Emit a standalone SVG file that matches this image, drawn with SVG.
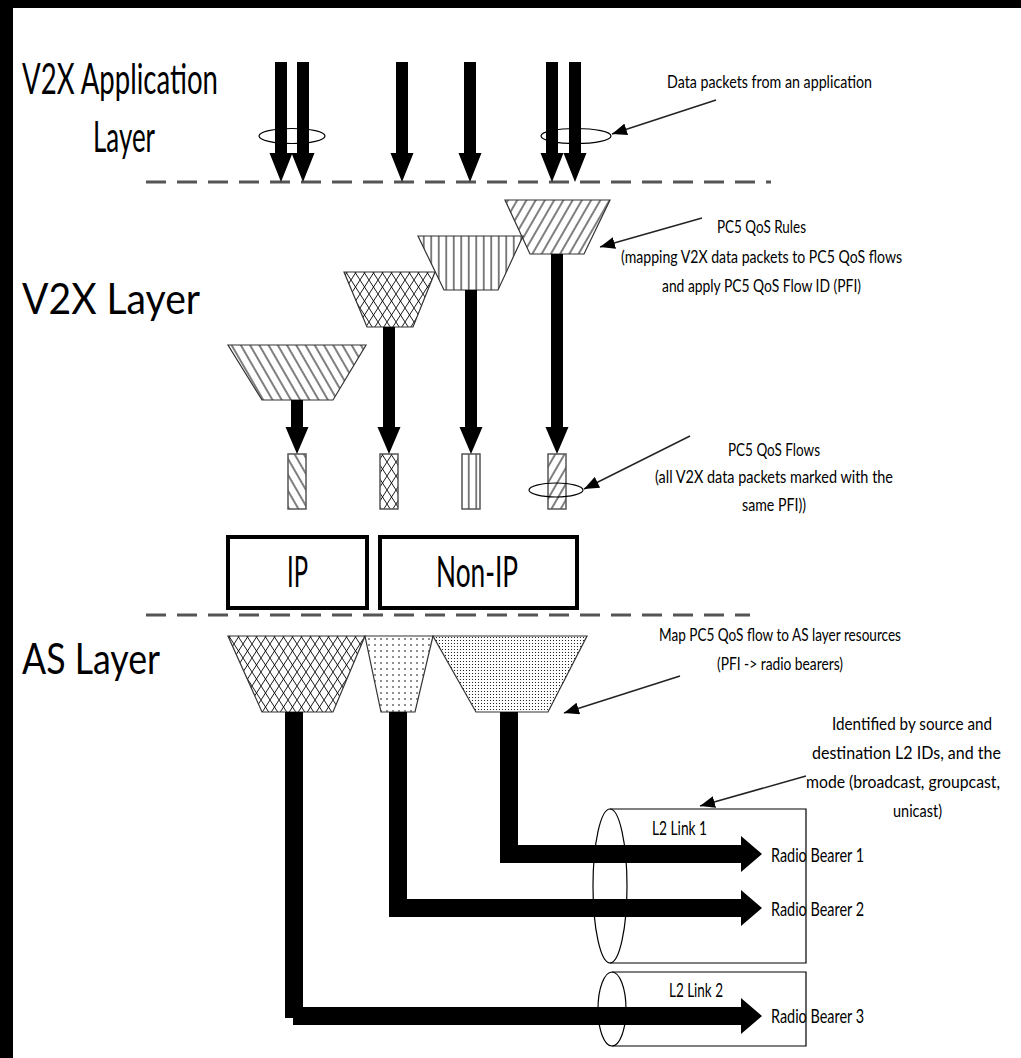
<svg xmlns="http://www.w3.org/2000/svg" width="1021" height="1058" viewBox="0 0 1021 1058">
<defs>
<style>
.big{font-family:Lato,"Liberation Sans",sans-serif;font-size:43px;fill:#000}
.ann{font-family:Lato,"Liberation Sans",sans-serif;font-size:17px;fill:#000}
.lbl{font-family:Lato,"Liberation Sans",sans-serif;font-size:20px;fill:#000}
.note{font-family:Lato,"Liberation Sans",sans-serif;font-size:17px;fill:#000}
.trap{stroke:#333;stroke-width:1.2}
.dash{stroke:#555;stroke-width:3;stroke-dasharray:20 11;fill:none}
.ring{stroke:#000;stroke-width:1.2;fill:none}
.ptr{stroke:#222;stroke-width:1.5;fill:none;marker-end:url(#ah)}
.box{fill:#fff;stroke:#000;stroke-width:4}
.flow{stroke:#555;stroke-width:1.5}
.cyl{fill:none;stroke:#000;stroke-width:1.2}
.blk{fill:#000}
</style>
<marker id="ah" markerUnits="userSpaceOnUse" markerWidth="16" markerHeight="12" refX="15" refY="6" orient="auto"><path d="M0,0 L15,6 L0,12 Z" fill="#000"/></marker>
<pattern id="pFwd" patternUnits="userSpaceOnUse" width="8" height="8" patternTransform="rotate(30)"><rect width="8" height="8" fill="#fff"/><line x1="4" y1="-1" x2="4" y2="9" stroke="#000" stroke-width="1"/></pattern>
<pattern id="pBack" patternUnits="userSpaceOnUse" width="8" height="8" patternTransform="rotate(-30)"><rect width="8" height="8" fill="#fff"/><line x1="4" y1="-1" x2="4" y2="9" stroke="#000" stroke-width="1"/></pattern>
<pattern id="pVert" patternUnits="userSpaceOnUse" width="7.5" height="8"><rect width="7.5" height="8" fill="#fff"/><line x1="3.75" y1="-1" x2="3.75" y2="9" stroke="#000" stroke-width="1"/></pattern>
<pattern id="pCross" patternUnits="userSpaceOnUse" width="9" height="14"><rect width="9" height="14" fill="#fff"/><path d="M0,0 L9,14 M9,0 L0,14" stroke="#000" stroke-width="0.9"/></pattern>
<pattern id="pDotS" patternUnits="userSpaceOnUse" width="6" height="6"><rect width="6" height="6" fill="#fff"/><circle cx="3" cy="3" r="0.8" fill="#000"/></pattern>
<pattern id="pDotD" patternUnits="userSpaceOnUse" width="3" height="3"><rect width="3" height="3" fill="#fff"/><circle cx="1.5" cy="1.5" r="0.6" fill="#000"/></pattern>
<path id="topArrow" d="M-6,0 H6 V91 H11.5 L0,120 L-11.5,91 H-6 Z"/>
</defs>

<rect width="1021" height="1058" fill="#fff"/>
<rect x="0" y="0" width="1021" height="8" fill="#000"/>
<rect x="0" y="0" width="13" height="1058" fill="#000"/>

<g id="layer-labels">
<text class="big" x="22" y="94" textLength="196" lengthAdjust="spacingAndGlyphs">V2X Application</text>
<text class="big" x="93" y="152" textLength="62" lengthAdjust="spacingAndGlyphs">Layer</text>
<text class="big" x="22" y="314" textLength="178" lengthAdjust="spacingAndGlyphs">V2X Layer</text>
<text class="big" x="22" y="674" textLength="138" lengthAdjust="spacingAndGlyphs">AS Layer</text>
</g>

<g id="boundaries">
<line class="dash" x1="146" y1="182" x2="771" y2="182"/>
<line class="dash" x1="146" y1="615" x2="750" y2="615"/>
</g>

<g id="app-packets">
<use href="#topArrow" x="281" y="62"/>
<use href="#topArrow" x="303" y="62"/>
<use href="#topArrow" x="402" y="62"/>
<use href="#topArrow" x="470" y="62"/>
<use href="#topArrow" x="552" y="62"/>
<use href="#topArrow" x="575" y="62"/>
<ellipse class="ring" cx="292" cy="136" rx="33" ry="7.5"/>
<ellipse class="ring" cx="576" cy="136" rx="35" ry="7.5"/>
</g>

<g id="qos-rule-1"><polygon class="trap" fill="url(#pFwd)" points="505,200 610,200 584,254 530,254"/></g>
<g id="qos-rule-2"><polygon class="trap" fill="url(#pVert)" points="418,236 523,236 498,290 444,290"/></g>
<g id="qos-rule-3"><polygon class="trap" fill="url(#pCross)" points="344,272 435,272 413,327 367,327"/></g>
<g id="qos-rule-4"><polygon class="trap" fill="url(#pBack)" points="228,345 366,345 333,400 262,400"/></g>

<g id="qos-flow-1"><rect class="flow" x="288" y="454" width="18" height="55" fill="url(#pBack)"/></g>
<g id="qos-flow-2"><rect class="flow" x="380" y="454" width="18" height="55" fill="url(#pCross)"/></g>
<g id="qos-flow-3"><rect class="flow" x="462" y="454" width="18" height="55" fill="url(#pVert)"/></g>
<g id="qos-flow-4"><rect class="flow" x="548" y="454" width="18" height="55" fill="url(#pFwd)"/><ellipse class="ring" cx="556" cy="490" rx="27" ry="7"/></g>

<g id="ip-box"><rect class="box" x="228" y="537" width="139" height="71"/>
<text class="big" x="287" y="587" textLength="21" lengthAdjust="spacingAndGlyphs">IP</text></g>
<g id="non-ip-box"><rect class="box" x="380" y="537" width="197" height="71"/>
<text class="big" x="436" y="587" textLength="82" lengthAdjust="spacingAndGlyphs">Non-IP</text></g>

<g id="as-map-1"><polygon class="trap" fill="url(#pCross)" points="228,636 365,636 333,712 262,712"/></g>
<g id="as-map-2"><polygon class="trap" fill="url(#pDotS)" points="365,636 433,636 415,712 381,712"/></g>
<g id="as-map-3"><polygon class="trap" fill="url(#pDotD)" points="433,636 587,636 548,712 476,712"/></g>

<g id="l2-link-1">
<path class="cyl" d="M610,809 H806 V963 H610"/>
<ellipse class="cyl" cx="610" cy="886" rx="17" ry="77"/>
<text class="lbl" x="652" y="835" textLength="55" lengthAdjust="spacingAndGlyphs">L2 Link 1</text>
</g>
<g id="l2-link-2">
<path class="cyl" d="M612,972 H806 V1046 H612"/>
<ellipse class="cyl" cx="612" cy="1009" rx="14" ry="37"/>
<text class="lbl" x="669" y="997" textLength="54" lengthAdjust="spacingAndGlyphs">L2 Link 2</text>
</g>

<g id="connectors">
<path class="blk" d="M551,254 H563 V427 H568.5 L557,454 L545.5,427 H551 Z"/>
<path class="blk" d="M465,290 H477 V427 H482.5 L471,454 L459.5,427 H465 Z"/>
<path class="blk" d="M383,327 H395 V427 H400.5 L389,454 L377.5,427 H383 Z"/>
<path class="blk" d="M291,400 H303 V427 H308.5 L297,454 L285.5,427 H291 Z"/>
<path class="blk" d="M500,712 H518 V845 H741 V836 L762,854 L741,872 V863 H500 Z"/>
<path class="blk" d="M389,712 H407 V899 H741 V890 L762,908 L741,926 V917 H389 Z"/>
<path class="blk" d="M285,712 H303 V1018 H285 Z"/>
<path class="blk" d="M293,1007 H741 V998 L762,1016 L741,1034 V1025 H293 Z"/>
<line class="ptr" x1="716" y1="100" x2="612" y2="134"/>
<line class="ptr" x1="702" y1="218" x2="600" y2="247"/>
<line class="ptr" x1="690" y1="436" x2="584" y2="489"/>
<line class="ptr" x1="680" y1="676" x2="564" y2="713"/>
<line class="ptr" x1="806" y1="776" x2="700" y2="806"/>
</g>

<g id="radio-bearers">
<text class="lbl" x="771" y="862" textLength="93" lengthAdjust="spacingAndGlyphs">Radio Bearer 1</text>
<text class="lbl" x="771" y="916" textLength="93" lengthAdjust="spacingAndGlyphs">Radio Bearer 2</text>
<text class="lbl" x="771" y="1023" textLength="93" lengthAdjust="spacingAndGlyphs">Radio Bearer 3</text>
</g>

<g id="annotations">
<text class="ann" x="667" y="88" textLength="205" lengthAdjust="spacingAndGlyphs">Data packets from an application</text>
<text class="ann" x="717" y="233" textLength="89" lengthAdjust="spacingAndGlyphs">PC5 QoS Rules</text>
<text class="ann" x="621" y="263" textLength="281" lengthAdjust="spacingAndGlyphs">(mapping V2X data packets to PC5 QoS flows</text>
<text class="ann" x="662" y="292" textLength="199" lengthAdjust="spacingAndGlyphs">and apply PC5 QoS Flow ID (PFI)</text>
<text class="ann" x="728" y="456" textLength="92" lengthAdjust="spacingAndGlyphs">PC5 QoS Flows</text>
<text class="ann" x="655" y="483" textLength="238" lengthAdjust="spacingAndGlyphs">(all V2X data packets marked with the</text>
<text class="ann" x="742" y="511" textLength="64" lengthAdjust="spacingAndGlyphs">same PFI))</text>
<text class="ann" x="659" y="641" textLength="242" lengthAdjust="spacingAndGlyphs">Map PC5 QoS flow to AS layer resources</text>
<text class="ann" x="717" y="670" textLength="126" lengthAdjust="spacingAndGlyphs">(PFI -&gt; radio bearers)</text>
<text class="note" x="832" y="730" textLength="160" lengthAdjust="spacingAndGlyphs">Identified by source and</text>
<text class="note" x="812" y="759" textLength="189" lengthAdjust="spacingAndGlyphs">destination L2 IDs, and the</text>
<text class="note" x="806" y="788" textLength="194" lengthAdjust="spacingAndGlyphs">mode (broadcast, groupcast,</text>
<text class="note" x="893" y="817" textLength="49" lengthAdjust="spacingAndGlyphs">unicast)</text>
</g>
</svg>
